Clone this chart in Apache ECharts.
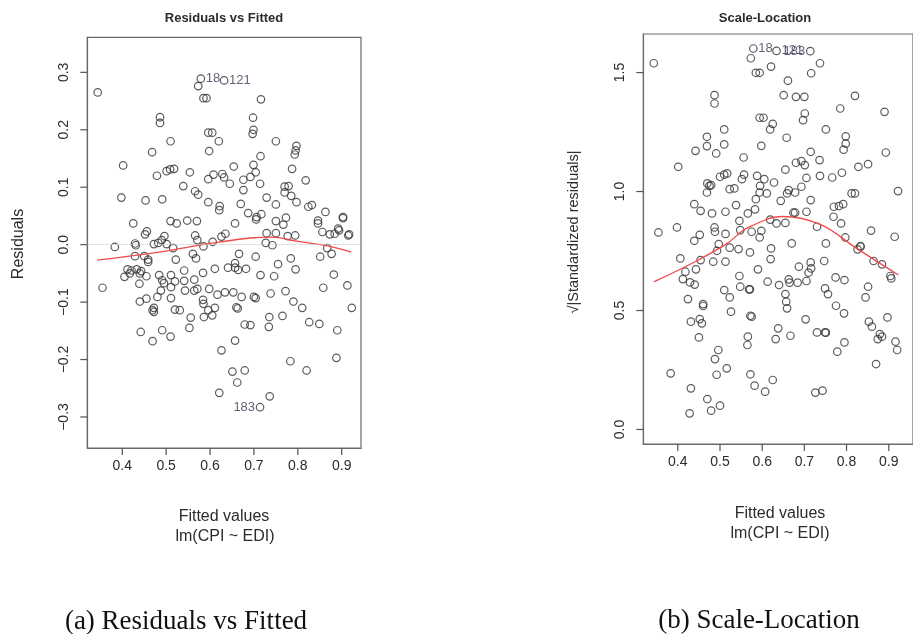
<!DOCTYPE html>
<html>
<head>
<meta charset="utf-8">
<script src="https://cdn.jsdelivr.net/npm/echarts@6.0.0/dist/echarts.min.js"></script>
<style>
  html, body { margin: 0; padding: 0; background: #fff; }
  #chart { width: 913px; height: 634px; }
</style>
</head>
<body>
<div id="chart"></div>
<script>
// ---- panel (a): residuals vs fitted ----
const fittedA = [
  0.344, 0.579, 0.632, 0.573, 0.585, 0.592, 0.716, 0.486, 0.486, 0.698,
  0.596, 0.605, 0.699, 0.697, 0.510, 0.620, 0.750, 0.468, 0.598, 0.797,
  0.795, 0.793, 0.715, 0.402, 0.479, 0.501, 0.509, 0.518, 0.554, 0.596,
  0.608, 0.628, 0.632, 0.645, 0.654, 0.699, 0.704, 0.692, 0.676, 0.714,
  0.787, 0.818, 0.539, 0.566, 0.573, 0.676, 0.770, 0.779, 0.770, 0.785,
  0.797, 0.398, 0.453, 0.491, 0.596, 0.622, 0.621, 0.670, 0.729, 0.750,
  0.824, 0.832, 0.863, 0.903, 0.903, 0.687, 0.706, 0.717, 0.705, 0.773,
  0.425, 0.510, 0.524, 0.548, 0.570, 0.657, 0.846, 0.846, 0.750, 0.767,
  0.892, 0.452, 0.456, 0.496, 0.490, 0.482, 0.472, 0.501, 0.516, 0.566,
  0.571, 0.585, 0.606, 0.626, 0.635, 0.383, 0.429, 0.431, 0.429, 0.450,
  0.459, 0.459, 0.412, 0.421, 0.433, 0.443, 0.417, 0.440, 0.455, 0.405,
  0.439, 0.355, 0.484, 0.491, 0.495, 0.488, 0.480, 0.472, 0.472, 0.469,
  0.440, 0.455, 0.442, 0.469, 0.491, 0.510, 0.511, 0.511, 0.511, 0.520,
  0.522, 0.520, 0.531, 0.541, 0.541, 0.543, 0.556, 0.553, 0.564, 0.564,
  0.571, 0.568, 0.561, 0.584, 0.584, 0.585, 0.596, 0.586, 0.605, 0.611,
  0.598, 0.617, 0.634, 0.611, 0.641, 0.657, 0.657, 0.666, 0.664, 0.682,
  0.653, 0.660, 0.663, 0.672, 0.657, 0.626, 0.679, 0.692, 0.651, 0.679,
  0.662, 0.621, 0.714, 0.736, 0.704, 0.700, 0.704, 0.715, 0.727, 0.742,
  0.746, 0.755, 0.738, 0.735, 0.734, 0.765, 0.772, 0.784, 0.795, 0.790,
  0.810, 0.783, 0.820, 0.826, 0.849, 0.851, 0.858, 0.867, 0.877, 0.882,
  0.890, 0.888, 0.913, 0.923, 0.777, 0.794, 0.750, 0.729, 0.856, 0.873,
  0.884, 0.894, 0.915, 0.917
];
const residA = [
  0.265, 0.289, 0.286, 0.276, 0.255, 0.255, 0.253, 0.222, 0.212, 0.221,
  0.195, 0.195, 0.200, 0.193, 0.180, 0.180, 0.180, 0.161, 0.163, 0.172,
  0.164, 0.157, 0.154, 0.138, 0.120, 0.128, 0.131, 0.132, 0.126, 0.114,
  0.122, 0.123, 0.117, 0.106, 0.136, 0.139, 0.126, 0.118, 0.113, 0.106,
  0.132, 0.112, 0.102, 0.093, 0.087, 0.095, 0.101, 0.102, 0.091, 0.085,
  0.074, 0.082, 0.077, 0.079, 0.074, 0.067, 0.060, 0.071, 0.082, 0.070,
  0.066, 0.069, 0.057, 0.048, 0.046, 0.055, 0.048, 0.053, 0.044, 0.047,
  0.037, 0.041, 0.037, 0.042, 0.041, 0.037, 0.042, 0.037, 0.041, 0.035,
  0.028, 0.018, 0.023, 0.015, 0.008, 0.003, 0.001, 0.001, -0.006, 0.016,
  0.008, -0.003, 0.005, 0.014, 0.019, -0.004, 0.002, -0.001, -0.020, -0.020,
  -0.026, -0.030, -0.043, -0.045, -0.043, -0.046, -0.050, -0.050, -0.055, -0.056,
  -0.068, -0.075, -0.053, -0.062, -0.067, -0.080, -0.091, -0.110, -0.117, -0.114,
  -0.099, -0.094, -0.152, -0.168, -0.149, -0.160, -0.053, -0.074, -0.093, -0.064,
  -0.026, -0.113, -0.114, -0.045, -0.063, -0.080, -0.127, -0.145, -0.061, -0.080,
  -0.077, -0.024, -0.016, -0.049, -0.096, -0.103, -0.114, -0.126, -0.123, -0.110,
  -0.077, -0.087, -0.083, -0.042, -0.040, -0.032, -0.040, -0.016, -0.044, -0.042,
  -0.083, -0.109, -0.111, -0.091, -0.167, -0.184, -0.139, -0.140, -0.221, -0.219,
  -0.240, -0.258, -0.283, -0.264, -0.021, -0.091, -0.093, -0.053, 0.003, -0.001,
  -0.055, -0.034, -0.085, -0.126, -0.143, -0.124, -0.081, -0.024, -0.043, -0.099,
  -0.110, -0.203, -0.219, -0.135, -0.138, -0.021, -0.075, -0.006, -0.016, -0.052,
  -0.149, -0.197, -0.071, -0.110, 0.015, 0.016, 0.020, 0.020, 0.022, 0.018,
  0.019, 0.025, 0.016, 0.018
];
const smoothAX = [0.343, 0.456, 0.531, 0.607, 0.698, 0.740, 0.797, 0.873, 0.922];
const smoothAY = [-0.027, -0.016, -0.007, 0.003, 0.012, 0.013, 0.006, -0.003, -0.013];
const labelIdsA = ['18', '121', '183'];
const labelXA = [0.579, 0.632, 0.714];
const labelYA = [0.289, 0.286, -0.283];

// ---- panel (b): scale-location ----
const fittedB = [
  0.343, 0.579, 0.634, 0.714, 0.573, 0.585, 0.594, 0.621, 0.737, 0.716,
  0.661, 0.487, 0.487, 0.651, 0.680, 0.700, 0.820, 0.785, 0.890, 0.701,
  0.697, 0.594, 0.603, 0.625, 0.619, 0.510, 0.751, 0.469, 0.469, 0.510,
  0.798, 0.798, 0.793, 0.658, 0.598, 0.442, 0.491, 0.556, 0.715, 0.736,
  0.893, 0.401, 0.680, 0.693, 0.701, 0.655, 0.828, 0.851, 0.789, 0.766,
  0.737, 0.705, 0.500, 0.510, 0.517, 0.557, 0.588, 0.605, 0.628, 0.470,
  0.479, 0.475, 0.469, 0.523, 0.534, 0.552, 0.595, 0.594, 0.611, 0.663,
  0.678, 0.659, 0.693, 0.812, 0.820, 0.922, 0.439, 0.454, 0.481, 0.513,
  0.538, 0.585, 0.566, 0.583, 0.644, 0.715, 0.674, 0.678, 0.705, 0.770,
  0.782, 0.792, 0.769, 0.787, 0.619, 0.655, 0.634, 0.546, 0.398, 0.487,
  0.354, 0.730, 0.858, 0.488, 0.452, 0.439, 0.513, 0.497, 0.493, 0.548,
  0.575, 0.598, 0.594, 0.523, 0.544, 0.571, 0.406, 0.454, 0.443, 0.418,
  0.412, 0.429, 0.440, 0.484, 0.513, 0.590, 0.621, 0.620, 0.670, 0.687,
  0.715, 0.716, 0.710, 0.705, 0.747, 0.751, 0.797, 0.833, 0.833, 0.826,
  0.914, 0.864, 0.884, 0.904, 0.906, 0.774, 0.795, 0.749, 0.756, 0.775,
  0.794, 0.851, 0.845, 0.853, 0.860, 0.897, 0.879, 0.884, 0.874, 0.916,
  0.920, 0.870, 0.546, 0.548, 0.569, 0.571, 0.510, 0.523, 0.526, 0.613,
  0.640, 0.663, 0.665, 0.684, 0.655, 0.657, 0.659, 0.424, 0.460, 0.460,
  0.431, 0.452, 0.457, 0.450, 0.572, 0.575, 0.703, 0.638, 0.632, 0.667,
  0.730, 0.749, 0.751, 0.795, 0.778, 0.566, 0.565, 0.496, 0.488, 0.492,
  0.516, 0.383, 0.431, 0.572, 0.582, 0.607, 0.625, 0.470, 0.479, 0.500,
  0.428, 0.726, 0.743
];
const sqrtStdB = [
  1.539, 1.601, 1.591, 1.590, 1.560, 1.499, 1.499, 1.525, 1.539, 1.497,
  1.466, 1.405, 1.370, 1.405, 1.398, 1.398, 1.402, 1.349, 1.335, 1.328,
  1.300, 1.310, 1.310, 1.284, 1.261, 1.261, 1.261, 1.230, 1.191, 1.198,
  1.232, 1.201, 1.176, 1.226, 1.192, 1.171, 1.160, 1.143, 1.167, 1.132,
  1.164, 1.104, 1.121, 1.128, 1.111, 1.092, 1.104, 1.115, 1.079, 1.059,
  1.066, 1.057, 1.062, 1.071, 1.076, 1.071, 1.066, 1.052, 1.038, 1.034,
  1.027, 1.024, 0.996, 1.010, 1.013, 1.052, 1.024, 0.996, 0.992, 1.006,
  0.996, 0.992, 1.020, 0.992, 0.992, 1.002, 0.947, 0.919, 0.908, 0.915,
  0.943, 0.968, 0.908, 0.925, 0.961, 0.964, 0.911, 0.911, 0.915, 0.936,
  0.939, 0.947, 0.894, 0.866, 0.882, 0.868, 0.866, 0.877, 0.849, 0.849,
  0.828, 0.852, 0.836, 0.831, 0.818, 0.793, 0.822, 0.779, 0.751, 0.838,
  0.831, 0.835, 0.807, 0.764, 0.758, 0.744, 0.719, 0.712, 0.673, 0.663,
  0.632, 0.618, 0.609, 0.705, 0.705, 0.673, 0.761, 0.716, 0.782, 0.684,
  0.702, 0.677, 0.659, 0.624, 0.708, 0.782, 0.807, 0.771, 0.768, 0.757,
  0.810, 0.708, 0.694, 0.645, 0.635, 0.639, 0.628, 0.593, 0.569, 0.520,
  0.488, 0.600, 0.555, 0.453, 0.432, 0.471, 0.401, 0.390, 0.380, 0.369,
  0.334, 0.275, 0.645, 0.600, 0.589, 0.589, 0.586, 0.555, 0.495, 0.621,
  0.607, 0.631, 0.617, 0.617, 0.569, 0.537, 0.509, 0.548, 0.527, 0.519,
  0.453, 0.464, 0.446, 0.387, 0.478, 0.474, 0.463, 0.425, 0.380, 0.394,
  0.408, 0.408, 0.407, 0.366, 0.327, 0.390, 0.355, 0.334, 0.296, 0.230,
  0.257, 0.236, 0.173, 0.232, 0.184, 0.159, 0.208, 0.128, 0.079, 0.100,
  0.068, 0.155, 0.163
];
const smoothBX = [0.343, 0.441, 0.517, 0.563, 0.648, 0.740, 0.824, 0.923];
const smoothBY = [0.620, 0.705, 0.782, 0.845, 0.895, 0.860, 0.761, 0.649];
const labelIdsB = ['18', '121', '183'];
const labelXB = [0.579, 0.634, 0.714];
const labelYB = [1.601, 1.591, 1.590];

// ---- axes ----
const xTicks = [0.4, 0.5, 0.6, 0.7, 0.8, 0.9];
const yTicksA = [-0.3, -0.2, -0.1, 0.0, 0.1, 0.2, 0.3];
const yTicksB = [0.0, 0.5, 1.0, 1.5];
const xRangeA = [0.3203, 0.944];
const xRangeB = [0.3182, 0.9575];   // panel b is cut off at the right edge
const yRangeA = [-0.354, 0.361];
const yRangeB = [-0.061, 1.662];

const LINE = '#6a6a6a';
const TICK = '#555';
const TICK_LEN = 7;
const TEXT = '#2b2b2b';
const SANS = 'Liberation Sans, Arial, sans-serif';
const SERIF = 'Liberation Serif, serif';

const zip = (xs, ys) => xs.map((x, i) => [x, ys[i]]);
const fmt = (v) => (v < 0 ? '\u2212' : '') + Math.abs(v).toFixed(1);

function xAxisFor(gridIndex, range) {
  return {
    type: 'value', gridIndex, min: range[0], max: range[1],
    axisLine: { onZero: false, lineStyle: { color: LINE, width: 1.2 } },
    axisTick: { show: false },
    axisLabel: { customValues: xTicks, margin: 11, color: TEXT, fontSize: 14, fontFamily: SANS, formatter: fmt },
    splitLine: { show: false }
  };
}

function yAxisFor(gridIndex, range, ticks) {
  return {
    type: 'value', gridIndex, min: range[0], max: range[1],
    axisLine: { onZero: false, lineStyle: { color: LINE, width: 1.2 } },
    axisTick: { show: false },
    axisLabel: { customValues: ticks, rotate: 90, margin: 16, color: TEXT, fontSize: 14, fontFamily: SANS, formatter: fmt },
    splitLine: { show: false }
  };
}

function pointSeries(idx, data) {
  return {
    type: 'scatter', xAxisIndex: idx, yAxisIndex: idx, data,
    symbol: 'circle', symbolSize: 7.5, silent: true,
    itemStyle: { color: 'rgba(0,0,0,0)', borderColor: '#333', borderWidth: 1.2 }
  };
}

function smoothSeries(idx, xs, ys) {
  return {
    type: 'line', xAxisIndex: idx, yAxisIndex: idx, data: zip(xs, ys),
    smooth: 0.35, showSymbol: false, silent: true,
    lineStyle: { color: '#f04a4a', width: 1.3 }, z: 3
  };
}

function labelSeries(idx, ids, xs, ys, sides) {
  return {
    type: 'scatter', xAxisIndex: idx, yAxisIndex: idx, symbolSize: 0, silent: true,
    data: ids.map((id, i) => ({
      value: [xs[i], ys[i]], name: id,
      label: { position: sides[i] }
    })),
    label: {
      show: true, formatter: (p) => p.name, distance: 5,
      color: '#3a3a58', fontSize: 13, fontFamily: SANS
    },
    z: 4
  };
}

function txt(x, y, text, opts) {
  opts = opts || {};
  return {
    type: 'text', x, y, rotation: opts.rotation || 0,
    style: {
      text, fill: opts.fill || TEXT,
      font: opts.font || ('16px ' + SANS),
      textAlign: 'center', textVerticalAlign: 'middle'
    }
  };
}

const chart = echarts.init(document.getElementById('chart'), null, { renderer: 'canvas' });

chart.setOption({
  backgroundColor: '#fff',
  animation: false,
  grid: [
    { left: 87.3, top: 37.3, width: 273.7, height: 410.7, show: true, borderColor: LINE, borderWidth: 1.2 },
    { left: 643.3, top: 34, width: 278, height: 410, show: true, borderColor: LINE, borderWidth: 1.2 }
  ],
  xAxis: [xAxisFor(0, xRangeA), xAxisFor(1, xRangeB)],
  yAxis: [yAxisFor(0, yRangeA, yTicksA), yAxisFor(1, yRangeB, yTicksB)],
  series: [
    Object.assign(pointSeries(0, zip(fittedA, residA)), {
      markLine: {
        silent: true, symbol: 'none', label: { show: false },
        lineStyle: { color: '#c4c4c4', type: 'dotted', width: 1 },
        data: [{ yAxis: 0 }]
      }
    }),
    smoothSeries(0, smoothAX, smoothAY),
    labelSeries(0, labelIdsA, labelXA, labelYA, ['right', 'right', 'left']),
    pointSeries(1, zip(fittedB, sqrtStdB)),
    smoothSeries(1, smoothBX, smoothBY),
    labelSeries(1, labelIdsB, labelXB, labelYB, ['right', 'right', 'left'])
  ]
});

// tick marks: placed through the chart's own axis scales (convertToPixel)
function tickMarks(gridIndex, xRange, yRange, yTicks) {
  const marks = [];
  const style = { stroke: TICK, lineWidth: 1.2 };
  xTicks.forEach((v) => {
    const p = chart.convertToPixel({ gridIndex }, [v, yRange[0]]);
    marks.push({ type: 'line', silent: true, z: 10,
      shape: { x1: p[0], y1: p[1], x2: p[0], y2: p[1] + TICK_LEN }, style });
  });
  yTicks.forEach((v) => {
    const p = chart.convertToPixel({ gridIndex }, [xRange[0], v]);
    marks.push({ type: 'line', silent: true, z: 10,
      shape: { x1: p[0] - TICK_LEN, y1: p[1], x2: p[0], y2: p[1] }, style });
  });
  return marks;
}

chart.setOption({
  graphic: [
    txt(224, 18, 'Residuals vs Fitted', { font: 'bold 13px ' + SANS }),
    txt(765, 18, 'Scale-Location', { font: 'bold 13px ' + SANS }),
    txt(19, 244, 'Residuals', { rotation: Math.PI / 2 }),
    txt(574, 232, '\u221A|Standardized residuals|', { rotation: Math.PI / 2, font: '14.5px ' + SANS }),
    txt(224, 517, 'Fitted values'),
    txt(225, 537, 'lm(CPI ~ EDI)'),
    txt(780, 514, 'Fitted values'),
    txt(780, 534, 'lm(CPI ~ EDI)'),
    txt(186, 622, '(a) Residuals vs Fitted', { font: '27px ' + SERIF, fill: '#111' }),
    txt(759, 621, '(b) Scale-Location', { font: '27px ' + SERIF, fill: '#111' })
  ].concat(
    tickMarks(0, xRangeA, yRangeA, yTicksA),
    tickMarks(1, xRangeB, yRangeB, yTicksB)
  )
});
</script>
</body>
</html>
